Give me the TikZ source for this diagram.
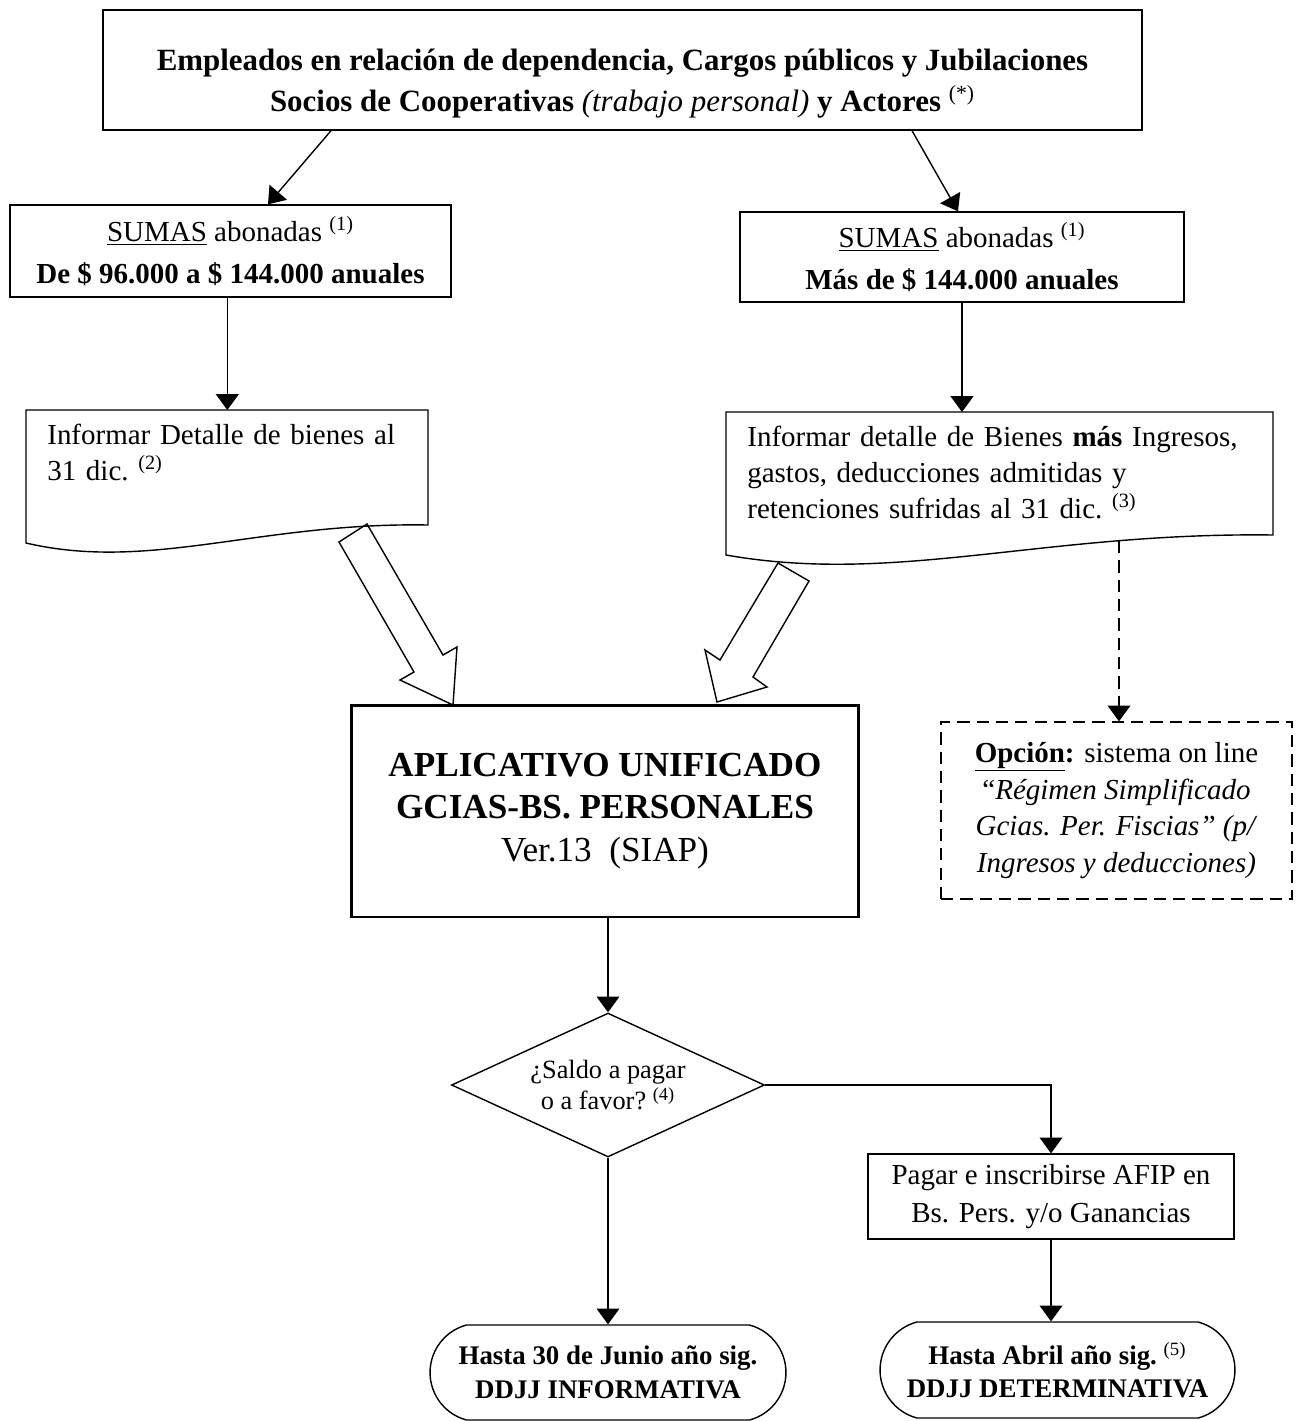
\documentclass[tikz,border=0pt]{standalone}
\usepackage{fontspec}
\setmainfont{Liberation Serif}
\usetikzlibrary{arrows.meta, shapes.geometric, shapes.misc}

\newcommand{\llamada}[1]{\textsuperscript{(#1)}}

\begin{document}
\begin{tikzpicture}[x = 0.02cm, y = -0.02cm, > = {Triangle[length = 9pt, width = 13pt]},
	caja/.style = {draw, line width = 0.8pt, align = center, inner sep = 0pt, font = \fontsize{16.5}{22}\selectfont},
	hoja/.style = {anchor = north west, align = left, inner xsep = 0.42cm, inner ysep = 0.28cm, font = \fontsize{16.5}{20.5}\selectfont},
	borde/.style = {line width = 0.8pt, line join = miter},
	flecha/.style = {->, line width = 0.8pt},
	fin/.style = {caja, rounded rectangle, rounded rectangle arc length = 150, font = \fontsize{15.3}{19}\selectfont\bfseries}]

	% Page
	
	\useasboundingbox (0, 0) rectangle (1300, 1421);
	
	% Who declares
	
	\node [caja, minimum width = 20.78cm, minimum height = 2.4cm] (top) at (622.5, 70) {};
	\node [align = center, font = \fontsize{17.6}{23.3}\selectfont\bfseries] (titulo) at (622.5, 84)
		{Empleados en relación de dependencia, Cargos públicos y Jubilaciones\\
		 Socios de Cooperativas \textmd{\textit{(trabajo personal)}} y Actores~\textmd{\llamada{*}}};
	
	% Amounts paid
	
	\node [caja, minimum width = 8.82cm, minimum height = 1.84cm, font = \fontsize{16.5}{23.8}\selectfont] (sumasL) at (230.5, 251)
		{\underline{SUMAS} abonadas~\llamada{1}\\ \textbf{De \$ 96.000 a \$ 144.000 anuales}};
	\node [caja, minimum width = 8.88cm, minimum height = 1.8cm, font = \fontsize{16.5}{23.8}\selectfont] (sumasR) at (962, 257)
		{\underline{SUMAS} abonadas~\llamada{1}\\ \textbf{Más de \$ 144.000 anuales}};
	
	\draw [flecha] (top.south -| 331, 0) -- (sumasL.north -| 268, 0);
	\draw [flecha] (top.south -| 912, 0) -- (sumasR.north -| 958, 0);
	
	% What to report (document boxes)
	
	\node [hoja, text width = 7.2cm] (infoL) at (26, 410)
		{Informar Detalle de bienes al\\ 31 dic.~\llamada{2}};
	\draw [borde] (26, 410) -- (428, 410) -- (428, 525) .. controls (260, 522) and (150, 572) .. (26, 543) -- cycle;
	
	\node [hoja, text width = 10.1cm] (infoR) at (726, 412)
		{Informar detalle de Bienes \textbf{más} Ingresos,\\ gastos, deducciones admitidas y\\ retenciones sufridas al 31 dic.~\llamada{3}};
	\draw [borde] (726, 412) -- (1273, 412) -- (1273, 535) .. controls (1043, 532) and (896, 585) .. (726, 555) -- cycle;
	
	\draw [flecha] (sumasL.south -| infoL.north) -- (infoL.north);
	\draw [flecha] (sumasR.south) -- (sumasR.south |- infoR.north);
	
	% Program
	
	\node [caja, line width = 1.7pt, minimum width = 10.16cm, minimum height = 4.24cm, font = \fontsize{20}{24}\selectfont] (aplic) at (605, 811)
		{\textbf{APLICATIVO UNIFICADO}\\ \textbf{GCIAS-BS. PERSONALES}\\ Ver.13\ \ (SIAP)};
	
	% Hollow arrows into the program
	
	\draw [borde] (339, 542) -- (414, 672) -- (400, 680) -- (453, 705) -- (457, 647) -- (443, 655) -- (367, 524) -- cycle;
	\draw [borde] (778, 563) -- (720, 660) -- (705, 650) -- (717, 702) -- (767, 687) -- (753, 677) -- (809, 581) -- cycle;
	
	% On line option
	
	\node [caja, dashed, dash pattern = on 7pt off 4pt, minimum width = 7.02cm, minimum height = 3.54cm, font = \fontsize{16.5}{21}\selectfont] (opcion) at (1116.5, 810.5)
		{\textbf{\underline{Opción}:} sistema on line\\
		 “\textit{Régimen Simplificado}\\
		 \textit{Gcias. Per. Fiscias” (p/}\\
		 \textit{Ingresos y deducciones)}};
	
	\coordinate (ola) at (1119, 541);
	\draw [flecha, dash pattern = on 7pt off 4pt] (ola) -- (ola |- opcion.north);
	
	% Balance
	
	\node [caja, diamond, aspect = 2.17, minimum width = 6.26cm, minimum height = 2.88cm, font = \fontsize{15}{17.5}\selectfont] (saldo) at (608, 1085)
		{¿Saldo a pagar\\ o a favor?~\llamada{4}};
	\node [caja, minimum width = 7.32cm, minimum height = 1.7cm] (pagar) at (1051, 1196.5)
		{Pagar e inscribirse AFIP en\\ Bs. Pers. y/o Ganancias};
	
	\draw [flecha] (aplic.south -| saldo.north) -- (saldo.north);
	\draw [flecha] (saldo.east) -| (pagar.north);
	
	% Deadlines
	
	\node [fin, minimum width = 7.12cm, minimum height = 1.9cm] (finL) at (608, 1372.5)
		{Hasta 30 de Junio año sig.\\ DDJJ INFORMATIVA};
	\node [fin, minimum width = 7.1cm, minimum height = 1.92cm] (finR) at (1057.5, 1370)
		{Hasta Abril año sig.~\textmd{\llamada{5}}\\ DDJJ DETERMINATIVA};
	
	\draw [flecha] (saldo.south) -- (finL.north);
	\draw [flecha] (pagar.south) -- (pagar.south |- finR.north);

\end{tikzpicture}
\end{document}
